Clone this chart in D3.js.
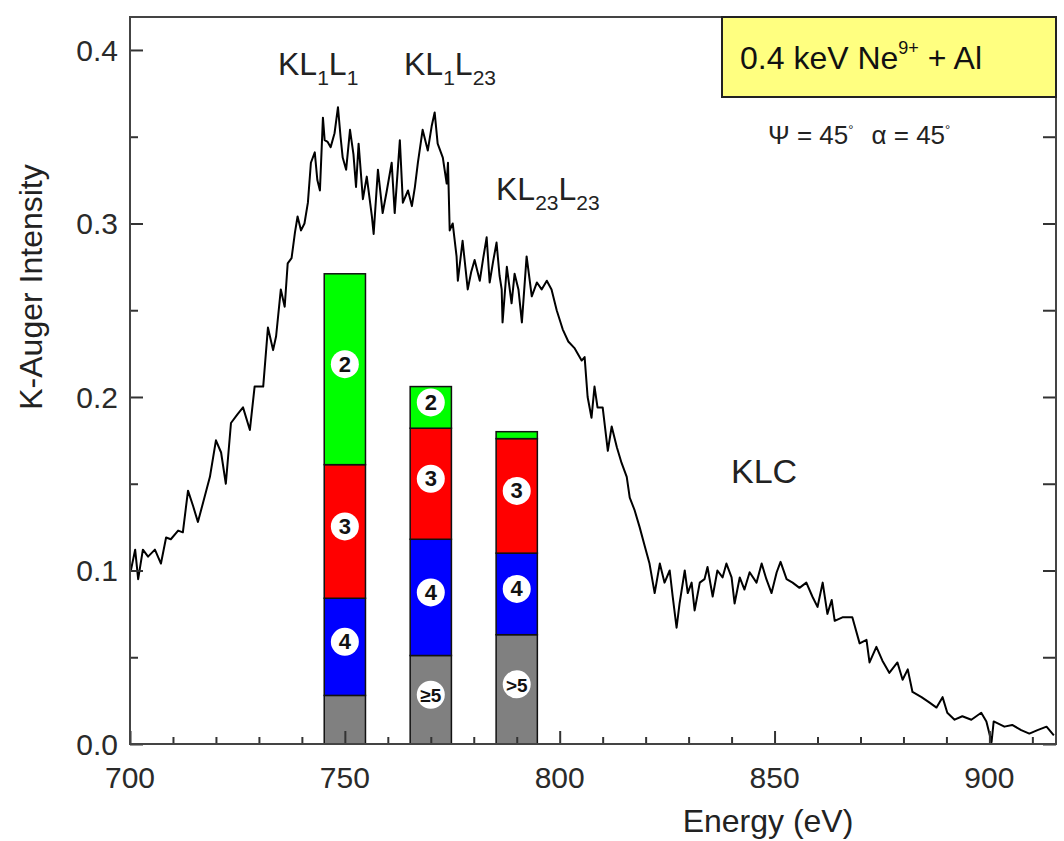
<!DOCTYPE html>
<html>
<head>
<meta charset="utf-8">
<script src="https://cdn.jsdelivr.net/npm/d3@7"></script>
<style>
body { margin: 0; background: #fff; }
text { font-family: "Liberation Sans", Arial, sans-serif; fill: #222; }
</style>
</head>
<body>
<svg id="svg" width="1064" height="841"></svg>
<script>
// spectrum (eV, intensity)
const energy = [
    700.2, 701.2, 701.9, 703.0, 704.2, 705.8, 707.2, 708.4, 709.5, 711.2,
    712.3, 713.5, 714.7, 715.8, 717.0, 718.6, 720.0, 721.2, 722.3, 723.5,
    725.0, 726.3, 727.9, 729.0, 731.0, 732.1, 733.3, 734.0, 735.1, 736.0,
    736.7, 737.6, 738.4, 739.0, 739.8, 740.6, 741.4, 742.1, 743.0, 743.6,
    744.2, 744.9, 745.3, 746.0, 746.7, 747.6, 748.4, 749.0, 749.5, 750.3,
    751.2, 752.0, 752.6, 753.2, 754.2, 755.1, 756.3, 756.7, 757.7, 758.8,
    759.7, 760.9, 761.6, 762.8, 763.5, 764.7, 765.6, 766.3, 767.0, 768.1,
    769.3, 770.2, 770.9, 771.6, 772.8, 773.7, 774.0, 774.4, 775.1, 776.0,
    776.3, 777.4, 778.6, 779.4, 780.2, 781.4, 782.2, 783.0, 783.7, 784.5,
    785.3, 786.0, 786.5, 786.7, 787.7, 788.8, 789.5, 790.4, 791.2, 792.3,
    793.5, 794.7, 795.8, 797.0, 798.1, 799.3, 800.7, 802.0, 803.5, 805.1,
    805.8, 806.5, 807.4, 808.1, 808.8, 810.0, 811.2, 812.1, 813.3, 814.4,
    815.6, 816.3, 817.4, 818.6, 819.8, 820.9, 822.1, 823.3, 824.4, 825.6,
    826.3, 827.2, 827.9, 829.1, 829.8, 830.7, 831.4, 832.6, 833.7, 834.4,
    835.6, 836.7, 837.9, 838.8, 840.0, 840.7, 841.9, 843.0, 844.2, 845.8,
    847.0, 848.1, 849.3, 850.5, 851.4, 852.8, 854.2, 855.8, 857.4, 858.8,
    860.0, 861.2, 862.3, 863.3, 864.0, 865.8, 868.1, 869.8, 871.4, 872.1,
    873.7, 875.1, 876.7, 878.6, 879.8, 881.0, 882.1, 884.2, 886.0, 887.7,
    889.1, 890.2, 891.9, 893.7, 895.8, 898.1, 899.3, 900.5, 901.0, 903.5,
    905.3, 907.4, 909.3, 911.2, 913.3, 915.0
];
const intensity = [
    0.100, 0.112, 0.095, 0.112, 0.108, 0.112, 0.104, 0.119, 0.118, 0.123,
    0.122, 0.146, 0.137, 0.128, 0.139, 0.154, 0.175, 0.168, 0.150, 0.185,
    0.190, 0.194, 0.181, 0.206, 0.206, 0.240, 0.227, 0.235, 0.262, 0.252,
    0.277, 0.280, 0.295, 0.304, 0.296, 0.300, 0.312, 0.335, 0.341, 0.325,
    0.319, 0.361, 0.348, 0.347, 0.344, 0.352, 0.367, 0.350, 0.338, 0.331,
    0.354, 0.340, 0.321, 0.346, 0.314, 0.327, 0.304, 0.294, 0.331, 0.306,
    0.318, 0.335, 0.306, 0.348, 0.312, 0.319, 0.310, 0.321, 0.335, 0.354,
    0.342, 0.356, 0.364, 0.346, 0.338, 0.323, 0.335, 0.296, 0.300, 0.281,
    0.267, 0.290, 0.262, 0.272, 0.279, 0.267, 0.280, 0.292, 0.266, 0.278,
    0.289, 0.270, 0.262, 0.243, 0.275, 0.254, 0.271, 0.262, 0.243, 0.281,
    0.258, 0.266, 0.262, 0.267, 0.262, 0.250, 0.239, 0.232, 0.228, 0.221,
    0.223, 0.200, 0.188, 0.206, 0.194, 0.194, 0.169, 0.183, 0.171, 0.162,
    0.154, 0.142, 0.135, 0.125, 0.114, 0.104, 0.087, 0.104, 0.093, 0.100,
    0.085, 0.067, 0.081, 0.100, 0.087, 0.093, 0.077, 0.093, 0.095, 0.102,
    0.085, 0.100, 0.096, 0.104, 0.096, 0.081, 0.096, 0.089, 0.099, 0.093,
    0.104, 0.095, 0.087, 0.099, 0.105, 0.095, 0.093, 0.090, 0.093, 0.085,
    0.079, 0.093, 0.075, 0.083, 0.071, 0.073, 0.073, 0.058, 0.060, 0.047,
    0.056, 0.048, 0.041, 0.047, 0.037, 0.043, 0.030, 0.027, 0.024, 0.021,
    0.027, 0.018, 0.014, 0.016, 0.014, 0.018, 0.013, 0.001, 0.013, 0.010,
    0.011, 0.008, 0.006, 0.008, 0.010, 0.005
];

// charge-state bars (stacked from the bottom)
const barEnergies = [750, 770, 790];
const grayPart  = [0.028, 0.051, 0.063];
const bluePart  = [0.056, 0.067, 0.047];
const redPart   = [0.077, 0.064, 0.066];
const greenPart = [0.110, 0.024, 0.004];
const segLabels = [[null, '4', '3', '2'], ['\u22655', '4', '3', '2'], ['>5', '4', '3', null]];
const segKeys = ['gray', 'blue', 'red', 'green'];
const segColors = {gray: '#808080', blue: '#0000ff', red: '#ff0000', green: '#00ff00'};

const xTicks = [700, 750, 800, 850, 900];
const yTicks = [0.0, 0.1, 0.2, 0.3, 0.4];

const svg = d3.select('#svg');
const plot = {left: 130, right: 1056, top: 17, bottom: 744};

const xScale = d3.scaleLinear().domain([700, 915.5]).range([plot.left, plot.right]);
const yScale = d3.scaleLinear().domain([0, 0.419]).range([plot.bottom, plot.top]);

// bars
const table = barEnergies.map(function(e, i) {
    return {e: e, gray: grayPart[i], blue: bluePart[i], red: redPart[i], green: greenPart[i], i: i};
});
const stacked = d3.stack().keys(segKeys)(table);
const barHalf = 4.8;

const barGrp = svg.append('g');
stacked.forEach(function(layer, k) {
    barGrp.selectAll(null).data(layer).enter()
        .append('rect')
        .attr('x', function(d) { return xScale(d.data.e - barHalf); })
        .attr('width', function(d) { return xScale(d.data.e + barHalf) - xScale(d.data.e - barHalf); })
        .attr('y', function(d) { return yScale(d[1]); })
        .attr('height', function(d) { return yScale(d[0]) - yScale(d[1]); })
        .attr('fill', segColors[layer.key])
        .attr('stroke', '#111')
        .attr('stroke-width', 1.5);
});
stacked.forEach(function(layer, k) {
    layer.forEach(function(d) {
        const lab = segLabels[d.data.i][k];
        if (!lab) return;
        const cx = xScale(d.data.e);
        const cy = (yScale(d[0]) + yScale(d[1])) / 2 - 5;
        barGrp.append('circle').attr('cx', cx).attr('cy', cy).attr('r', 14).attr('fill', '#fff');
        barGrp.append('text').attr('x', cx).attr('y', cy + 7.5)
            .attr('text-anchor', 'middle')
            .style('font-size', lab.length > 1 ? '19px' : '22px')
            .style('font-weight', 'bold')
            .style('fill', '#111')
            .text(lab);
    });
});

// spectrum
const line = d3.line()
    .x(function(d, i) { return xScale(energy[i]); })
    .y(function(d) { return yScale(d); });
svg.append('path')
    .datum(intensity)
    .attr('d', line)
    .attr('fill', 'none')
    .attr('stroke', '#000')
    .attr('stroke-width', 2)
    .attr('stroke-linejoin', 'round');

// axes (ticks only, labels drawn below)
const xMinor = d3.range(710, 916, 10).filter(function(v) { return v % 50 !== 0; });
const yMinor = [0.05, 0.15, 0.25, 0.35];

function styleAxis(g) {
    g.select('.domain').remove();
    g.selectAll('line').attr('stroke', '#333').attr('stroke-width', 2);
    g.selectAll('text').remove();
}

svg.append('g').attr('transform', 'translate(0,' + plot.bottom + ')')
    .call(d3.axisBottom(xScale).tickValues(xTicks).tickSize(-13))
    .call(styleAxis);
svg.append('g').attr('transform', 'translate(0,' + plot.bottom + ')')
    .call(d3.axisBottom(xScale).tickValues(xMinor).tickSize(-7))
    .call(styleAxis);
svg.append('g').attr('transform', 'translate(' + plot.left + ',0)')
    .call(d3.axisLeft(yScale).tickValues(yTicks).tickSize(-13))
    .call(styleAxis);
svg.append('g').attr('transform', 'translate(' + plot.left + ',0)')
    .call(d3.axisLeft(yScale).tickValues(yMinor).tickSize(-8))
    .call(styleAxis);
svg.append('g').attr('transform', 'translate(' + plot.right + ',0)')
    .call(d3.axisLeft(yScale).tickValues(yTicks.concat(yMinor)).tickSize(13))
    .call(styleAxis);

// tick labels
svg.append('g').selectAll('text').data(xTicks).enter()
    .append('text')
    .attr('x', function(d) { return xScale(d); })
    .attr('y', plot.bottom + 44)
    .attr('text-anchor', 'middle')
    .style('font-size', '30px')
    .style('fill', '#2a2a2a')
    .text(function(d) { return d; });
svg.append('g').selectAll('text').data(yTicks).enter()
    .append('text')
    .attr('x', plot.left - 12)
    .attr('y', function(d) { return yScale(d) + 11; })
    .attr('text-anchor', 'end')
    .style('font-size', '30px')
    .style('fill', '#2a2a2a')
    .text(function(d) { return d3.format('.1f')(d); });

// frame
svg.append('rect')
    .attr('x', plot.left).attr('y', plot.top)
    .attr('width', plot.right - plot.left).attr('height', plot.bottom - plot.top)
    .attr('fill', 'none').attr('stroke', '#444').attr('stroke-width', 2);

// legend box
svg.append('rect')
    .attr('x', 722).attr('y', plot.top)
    .attr('width', plot.right - 722).attr('height', 80)
    .attr('fill', '#ffff80').attr('stroke', '#222').attr('stroke-width', 2);
const leg = svg.append('text').attr('x', 740).attr('y', 69).style('font-size', '32px').style('fill', '#111');
leg.append('tspan').text('0.4 keV Ne');
leg.append('tspan').attr('dy', -15).style('font-size', '18px').text('9+');
leg.append('tspan').attr('dy', 15).text(' + Al');

const ang = svg.append('text').attr('x', 768).attr('y', 144).style('font-size', '26px');
ang.append('tspan').text('\u03A8 = 45');
ang.append('tspan').attr('dy', -10).style('font-size', '13px').text('\u00B0');
ang.append('tspan').attr('dy', 10).attr('dx', 18).text('\u03B1 = 45');
ang.append('tspan').attr('dy', -10).style('font-size', '13px').text('\u00B0');

// peak labels
function peakLabel(x, y, parts) {
    const t = svg.append('text').attr('x', x).attr('y', y).style('font-size', '32px');
    let down = false;
    parts.forEach(function(p) {
        const sub = p[1];
        const ts = t.append('tspan').text(p[0]);
        if (sub && !down) { ts.attr('dy', 10).style('font-size', '21px'); down = true; }
        else if (sub) { ts.style('font-size', '21px'); }
        else if (down) { ts.attr('dy', -10); down = false; }
    });
}
peakLabel(278, 75, [['KL', false], ['1', true], ['L', false], ['1', true]]);
peakLabel(404, 75, [['KL', false], ['1', true], ['L', false], ['23', true]]);
peakLabel(496, 200, [['KL', false], ['23', true], ['L', false], ['23', true]]);
svg.append('text').attr('x', 731).attr('y', 483).style('font-size', '34px').text('KLC');

// axis titles
svg.append('text')
    .attr('x', 768).attr('y', 832)
    .attr('text-anchor', 'middle')
    .style('font-size', '32px')
    .text('Energy (eV)');
svg.append('text')
    .attr('transform', 'translate(42,' + 287 + ') rotate(-90)')
    .attr('text-anchor', 'middle')
    .style('font-size', '32px')
    .text('K-Auger Intensity');
</script>
</body>
</html>
